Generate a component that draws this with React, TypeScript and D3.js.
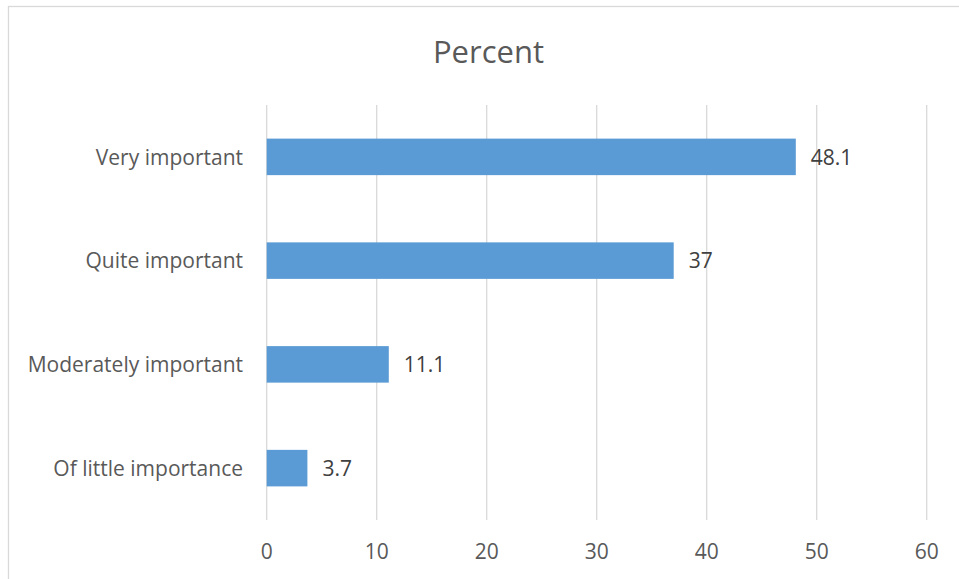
import React from "react";
import * as d3 from "d3";

// Survey responses: share of respondents per importance rating
const categories = ["Very important", "Quite important", "Moderately important", "Of little importance"];
const percentValues = [48.1, 37, 11.1, 3.7];
const tickValues = [0, 10, 20, 30, 40, 50, 60];
const chartTitle = "Percent";

const W = 959;
const H = 579;
const FONT = "'Open Sans', 'Segoe UI', sans-serif";
const LABEL_SIZE = 21;

export default function App() {
  const x = d3.scaleLinear().domain([0, 60]).range([266.7, 926.7]);
  const y = d3
    .scaleBand<string>()
    .domain(categories)
    .range([105, 520])
    .paddingInner(0.648)
    .paddingOuter(0.324);

  const rows = categories.map((c, i) => ({ c, v: percentValues[i] }));

  return (
    <svg
      width={W}
      height={H}
      style={{ position: "absolute", left: 0, top: 0, background: "#fff" }}
      fontFamily={FONT}
    >
      {/* chart frame */}
      <rect x={8.5} y={6.5} width={1000} height={1000} fill="#fff" stroke="#d9d9d9" strokeWidth={1.3} />

      <text x={488.5} y={62.5} textAnchor="middle" fontSize={31} fill="#595959">
        {chartTitle}
      </text>

      {/* vertical gridlines */}
      {tickValues.map((t) => (
        <line
          key={t}
          x1={x(t)}
          x2={x(t)}
          y1={105}
          y2={520}
          stroke="#d9d9d9"
          strokeWidth={1.3}
        />
      ))}

      {/* bars */}
      {rows.map((r) => (
        <rect
          key={r.c}
          x={x(0)}
          y={y(r.c)}
          width={x(r.v) - x(0)}
          height={y.bandwidth()}
          fill="#5b9bd5"
        />
      ))}

      {/* data labels */}
      {rows.map((r) => (
        <text
          key={r.c + "-v"}
          x={x(r.v) + 15}
          y={(y(r.c) as number) + y.bandwidth() / 2 + 7.8}
          fontSize={LABEL_SIZE}
          fill="#404040"
        >
          {String(r.v)}
        </text>
      ))}

      {/* category labels */}
      {rows.map((r) => (
        <text
          key={r.c + "-l"}
          x={243}
          y={(y(r.c) as number) + y.bandwidth() / 2 + 7.8}
          textAnchor="end"
          fontSize={LABEL_SIZE}
          fill="#595959"
        >
          {r.c}
        </text>
      ))}

      {/* x-axis tick labels */}
      {tickValues.map((t) => (
        <text key={t + "-t"} x={x(t)} y={559} textAnchor="middle" fontSize={LABEL_SIZE} fill="#595959">
          {t}
        </text>
      ))}
    </svg>
  );
}
